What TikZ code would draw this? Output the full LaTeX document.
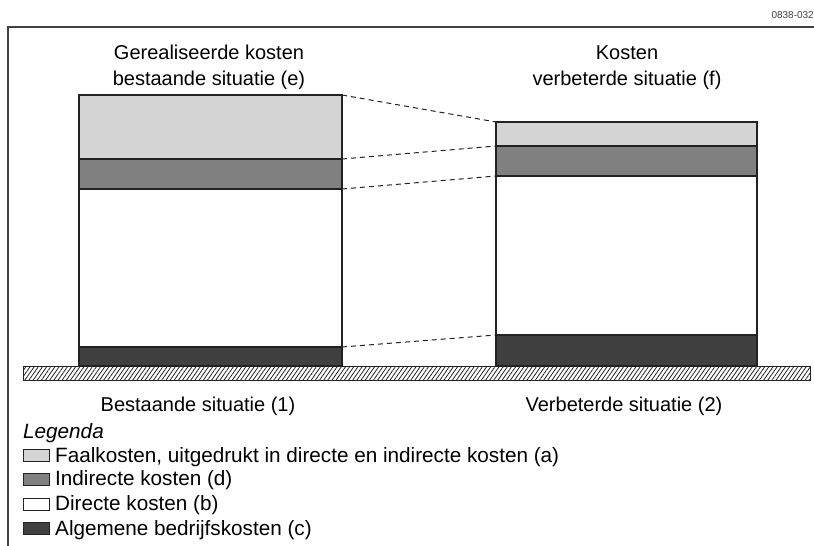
\documentclass[tikz,border=0pt]{standalone}
\usepackage{fontspec}
\setmainfont{Liberation Sans}
\usetikzlibrary{patterns.meta}
\definecolor{lightc}{HTML}{D4D4D4}
\definecolor{midc}{HTML}{808080}
\definecolor{darkc}{HTML}{404040}
\definecolor{linec}{HTML}{222222}
\begin{document}
\begin{tikzpicture}[x=1pt,y=-1pt,
  seg/.style={draw=linec,line width=1.1pt},
  link/.style={draw=linec,dashed,dash pattern=on 5pt off 4pt,line width=1pt},
  txt/.style={font=\fontsize{20}{24}\selectfont,inner sep=0pt,anchor=base},
  leg/.style={draw=linec,line width=1pt,minimum width=26pt,minimum height=12pt,inner sep=0pt},
  legt/.style={font=\fontsize{20.7}{24}\selectfont,inner sep=0pt,anchor=base west}]
\useasboundingbox (0,0) rectangle (814,546);
% frame
\draw[line width=1.2pt,draw=darkc] (8,546) -- (8,27) -- (814,27);
\node[font=\fontsize{10}{11}\selectfont,anchor=base east,inner sep=0pt,text=darkc] (code) at (814,19) {0838-032};
% ground
\path[pattern={Lines[angle=55,distance=3.4pt,line width=0.8pt]},pattern color=linec] (23,366) rectangle (810,380);
\draw[linec,line width=1pt] (23,366) rectangle (810,380);
% left bar
\path[seg,fill=lightc] (79,95) rectangle (342,159);
\path[seg,fill=midc] (79,159) rectangle (342,189);
\path[seg,fill=white] (79,189) rectangle (342,347);
\path[seg,fill=darkc] (79,347) rectangle (342,366);
\coordinate (l1) at (342,95);
\coordinate (l2) at (342,159);
\coordinate (l3) at (342,189);
\coordinate (l4) at (342,347);
% right bar
\path[seg,fill=lightc] (496,122) rectangle (757,146);
\path[seg,fill=midc] (496,146) rectangle (757,176);
\path[seg,fill=white] (496,176) rectangle (757,335);
\path[seg,fill=darkc] (496,335) rectangle (757,366);
\coordinate (r1) at (496,122);
\coordinate (r2) at (496,146);
\coordinate (r3) at (496,176);
\coordinate (r4) at (496,335);
% connectors
\draw[link] (l1) -- (r1);
\draw[link] (l2) -- (r2);
\draw[link] (l3) -- (r3);
\draw[link] (l4) -- (r4);
% titles
\node[txt] (t1a) at (209,59) {Gerealiseerde kosten};
\node[txt] (t1b) at (209,85) {bestaande situatie (e)};
\node[txt] (t2a) at (627,59) {Kosten};
\node[txt] (t2b) at (627,85) {verbeterde situatie (f)};
\node[txt] (b1) at (198,411) {Bestaande situatie (1)};
\node[txt] (b2) at (624,411) {Verbeterde situatie (2)};
% legend
\node[legt,font=\fontsize{20.7}{24}\selectfont\itshape] (lg) at (23,438) {Legenda};
\node[leg,fill=lightc,anchor=west] (k1) at (23,455.5) {};
\node[legt] (k1t) at (55,462) {Faalkosten, uitgedrukt in directe en indirecte kosten (a)};
\node[leg,fill=midc,anchor=west] (k2) at (23,479) {};
\node[legt] (k2t) at (55,485.5) {Indirecte kosten (d)};
\node[leg,fill=white,anchor=west] (k3) at (23,504) {};
\node[legt] (k3t) at (55,510.5) {Directe kosten (b)};
\node[leg,fill=darkc,anchor=west] (k4) at (23,528.5) {};
\node[legt] (k4t) at (55,535) {Algemene bedrijfskosten (c)};
\end{tikzpicture}
\end{document}
